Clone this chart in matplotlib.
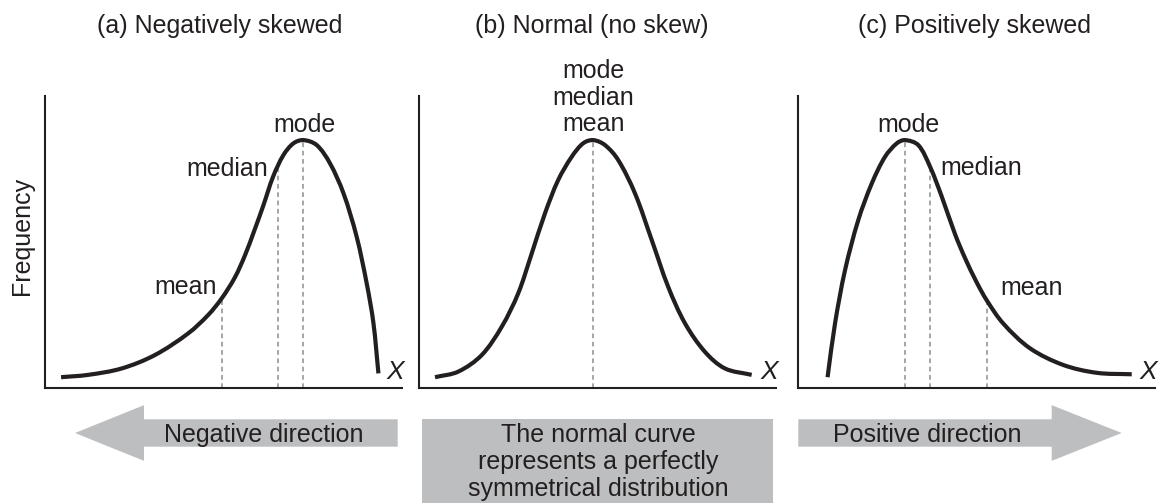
import matplotlib.pyplot as plt
import numpy as np
from matplotlib.patches import FancyArrow, Rectangle, PathPatch
from matplotlib.path import Path

plt.rcParams['font.family'] = ['Liberation Sans', 'DejaVu Sans']

INK = '#231f20'
GREY = '#bcbec0'
DASH = '#9d9fa2'

# curve readings, x = score (0-100 across the panel), y = frequency (0-100)
neg_x = [4.5, 12.1, 21.5, 30.8, 40.1, 45.7, 49.5, 53.2, 56.0, 58.6, 61.1,
         63.9, 66.8, 69.6, 72.4, 76.1, 79.8, 83.6, 87.3, 90.1, 92.0, 93.4]
neg_y = [3.7, 4.5, 6.7, 11.3, 18.7, 25.0, 30.7, 37.9, 45.4, 53.8, 62.3,
         72.4, 79.8, 83.8, 84.9, 83.2, 77.0, 66.7, 51.8, 35.9, 22.2, 5.0]

nor_x = [4.4, 10.9, 17.5, 23.1, 27.7, 31.5, 35.2, 38.9, 42.7, 45.9, 48.7,
         52.0, 55.7, 60.4, 65.1, 69.7, 74.4, 80.0, 85.6, 93.1]
nor_y = [3.7, 5.6, 11.3, 21.0, 32.4, 46.1, 59.8, 71.2, 79.2, 83.8, 84.9,
         83.2, 78.1, 66.7, 50.7, 34.7, 22.2, 12.4, 6.7, 4.5]

pos_x = [8.2, 10.3, 13.1, 16.8, 20.6, 24.3, 27.6, 29.9, 33.6, 36.9, 40.2,
         43.9, 46.7, 50.0, 52.8, 57.4, 64.9, 74.2, 83.6, 93.4]
pos_y = [3.7, 22.2, 40.4, 57.5, 70.1, 79.2, 83.8, 84.9, 83.2, 75.8, 65.5,
         52.7, 44.5, 36.1, 30.0, 22.1, 13.6, 7.9, 5.2, 4.7]

# mean, median, mode positions
neg_stats = [49.5, 65.3, 72.4]
nor_stats = [48.7]
pos_stats = [52.8, 36.9, 29.9]

titles = ['(a) Negatively skewed', '(b) Normal (no skew)', '(c) Positively skewed']

W, H = 1160, 503
fig = plt.figure(figsize=(W / 100, H / 100), dpi=100)


def add_px_axes(left, top, right, bottom):
    return fig.add_axes([left / W, 1 - bottom / H, (right - left) / W, (bottom - top) / H])


def smooth_path(x, y, sx=3.57, sy=2.92):
    # cubic bezier through the read points, chord-length tangents
    p = np.column_stack([x, y])
    q = p * [sx, sy]
    t = np.concatenate([[0], np.cumsum(np.hypot(*np.diff(q, axis=0).T))])
    m = np.zeros_like(p)
    m[1:-1] = (p[2:] - p[:-2]) / (t[2:] - t[:-2])[:, None]
    m[0] = (p[1] - p[0]) / (t[1] - t[0])
    m[-1] = (p[-1] - p[-2]) / (t[-1] - t[-2])
    verts = [p[0]]
    codes = [Path.MOVETO]
    for i in range(len(p) - 1):
        dt = t[i + 1] - t[i]
        verts += [p[i] + m[i] * dt / 3, p[i + 1] - m[i + 1] * dt / 3, p[i + 1]]
        codes += [Path.CURVE4] * 3
    return Path(verts, codes)


deco = add_px_axes(0, 0, W, H)
deco.set_xlim(0, W)
deco.set_ylim(H, 0)
deco.set_axis_off()

panel_left = [45, 419.3, 798.3]
panel_data = [(neg_x, neg_y, neg_stats), (nor_x, nor_y, nor_stats), (pos_x, pos_y, pos_stats)]
axes = []
for left, (x, y, stats) in zip(panel_left, panel_data):
    ax = add_px_axes(left, 96, left + 357, 388)
    ax.add_patch(PathPatch(smooth_path(x, y), fill=False, edgecolor=INK, lw=3.0,
                           capstyle='butt', joinstyle='round', zorder=3))
    for s in stats:
        top = np.interp(s, x, y)
        ax.plot([s, s], [0, top], color=DASH, lw=1.3, ls=(0, (2.6, 2)), zorder=1)
    ax.set_xlim(0, 100)
    ax.set_ylim(0, 100)
    ax.set_xticks([])
    ax.set_yticks([])
    for side in ['top', 'right']:
        ax.spines[side].set_visible(False)
    for side in ['left', 'bottom']:
        ax.spines[side].set_linewidth(1.5)
        ax.spines[side].set_color(INK)
    ax.patch.set_alpha(0)
    ax.text(98, 5.5, 'X', style='italic', ha='center', va='center', size=19, color=INK)
    axes.append(ax)

fs = 18
a, b, c = axes
a.text(72.8, 87.8, 'mode', ha='center', va='baseline', size=fs, color=INK)
a.text(62.5, 72.6, 'median', ha='right', va='baseline', size=fs, color=INK)
a.text(48.2, 32.2, 'mean', ha='right', va='baseline', size=fs, color=INK)

b.text(48.7, 106.1, 'mode', ha='center', va='baseline', size=fs, color=INK)
b.text(48.7, 96.9, 'median', ha='center', va='baseline', size=fs, color=INK)
b.text(48.7, 88.1, 'mean', ha='center', va='baseline', size=fs, color=INK)

c.text(30.8, 87.8, 'mode', ha='center', va='baseline', size=fs, color=INK)
c.text(39.8, 72.9, 'median', ha='left', va='baseline', size=fs, color=INK)
c.text(56.6, 31.8, 'mean', ha='left', va='baseline', size=fs, color=INK)

for xc, t in zip([220, 592, 975], titles):
    deco.text(xc, 32.7, t, ha='center', va='baseline', size=fs, color=INK)
deco.text(22, 236, 'Frequency', rotation=90, ha='center', va='center', size=fs, color=INK)

# direction arrows and centre box
deco.add_patch(FancyArrow(397.7, 433, -322.7, 0, width=27.4, head_width=55.7,
                          head_length=69, length_includes_head=True, color=GREY, lw=0))
deco.add_patch(FancyArrow(798.3, 433, 323.4, 0, width=27.4, head_width=55.7,
                          head_length=70, length_includes_head=True, color=GREY, lw=0))
deco.add_patch(Rectangle((422, 419.3), 351.3, 90, color=GREY, lw=0))

deco.text(264, 441.7, 'Negative direction', ha='center', va='baseline', size=fs, color=INK)
deco.text(927, 441.7, 'Positive direction', ha='center', va='baseline', size=fs, color=INK)
for yb, line in zip([442, 469, 496], ['The normal curve', 'represents a perfectly',
                                      'symmetrical distribution']):
    deco.text(598, yb, line, ha='center', va='baseline', size=fs, color=INK)

fig.savefig('out.png', dpi=100)
